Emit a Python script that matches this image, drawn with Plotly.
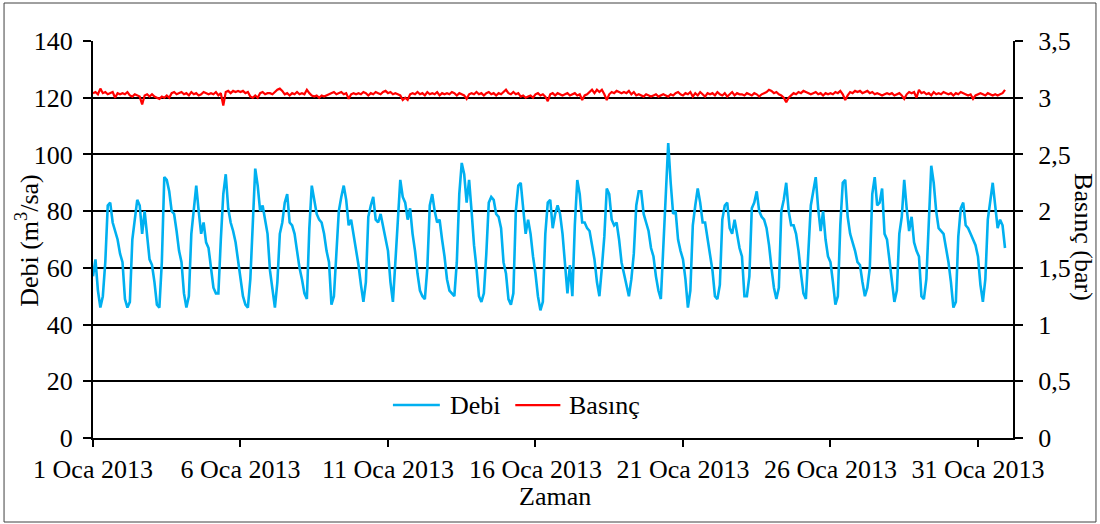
import pandas as pd
import plotly.graph_objects as go

# Flow (Debi, m3/sa) read every 2 hours, one row per day (1..31 Ocak 2013)
debi_by_day = [
    [57, 63, 52, 46, 50, 62, 82, 83, 76, 73, 70, 65],
    [62, 49, 46, 48, 70, 77, 84, 82, 72, 80, 70, 63],
    [61, 55, 47, 46, 62, 92, 91, 87, 80, 79, 73, 66],
    [62, 51, 46, 50, 72, 82, 89, 80, 72, 76, 69, 67],
    [60, 53, 51, 51, 70, 86, 93, 81, 76, 73, 69, 62],
    [56, 50, 47, 46, 56, 76, 95, 89, 80, 82, 77, 72],
    [59, 52, 46, 55, 72, 76, 83, 86, 76, 75, 72, 66],
    [60, 56, 51, 49, 74, 89, 84, 79, 77, 76, 72, 66],
    [62, 47, 50, 65, 80, 85, 89, 84, 75, 77, 72, 67],
    [61, 54, 48, 55, 78, 82, 85, 77, 76, 79, 75, 70],
    [66, 55, 48, 62, 78, 91, 85, 83, 77, 81, 72, 66],
    [58, 52, 50, 49, 60, 82, 86, 80, 76, 77, 70, 64],
    [56, 52, 51, 50, 62, 86, 97, 93, 83, 91, 80, 68],
    [60, 50, 48, 51, 65, 83, 85, 84, 79, 78, 74, 62],
    [58, 49, 47, 51, 80, 89, 90, 80, 72, 77, 72, 64],
    [58, 50, 45, 48, 72, 83, 84, 74, 79, 82, 79, 72],
    [60, 51, 61, 50, 75, 91, 86, 76, 76, 74, 73, 68],
    [63, 55, 50, 60, 71, 88, 86, 77, 75, 76, 70, 62],
    [58, 55, 50, 56, 65, 82, 87, 87, 79, 76, 73, 67],
    [64, 57, 52, 49, 68, 90, 104, 90, 79, 80, 70, 66],
    [63, 56, 46, 52, 75, 82, 88, 83, 76, 76, 70, 65],
    [59, 50, 49, 54, 77, 82, 83, 74, 72, 77, 72, 67],
    [64, 50, 50, 57, 81, 83, 87, 80, 78, 77, 74, 68],
    [60, 53, 49, 53, 80, 84, 90, 80, 75, 75, 72, 66],
    [58, 51, 49, 65, 82, 87, 92, 81, 73, 80, 70, 64],
    [62, 55, 47, 50, 75, 90, 91, 78, 72, 69, 66, 62],
    [61, 55, 50, 53, 60, 86, 92, 82, 83, 88, 72, 70],
    [62, 54, 48, 52, 72, 78, 91, 81, 73, 78, 69, 66],
    [64, 50, 49, 56, 78, 96, 90, 80, 74, 73, 72, 67],
    [62, 55, 46, 48, 71, 81, 83, 75, 74, 72, 70, 68],
    [64, 54, 48, 56, 77, 83, 90, 82, 74, 77, 75, 67],
]

# Pressure (Basinc, bar) read every 2 hours, one row per day
basinc_by_day = [
    [3.04, 3.05, 3.03, 3.08, 3.04, 3.05, 3.03, 3.04, 3.05, 3.00, 3.04, 3.03],
    [3.04, 3.03, 3.05, 3.02, 3.01, 3.03, 3.02, 3.01, 2.94, 3.02, 3.03, 3.01],
    [3.03, 3.01, 3.00, 2.99, 3.01, 3.00, 3.02, 3.00, 3.04, 3.05, 3.03, 3.04],
    [3.05, 3.03, 3.04, 3.02, 3.05, 3.03, 3.04, 3.02, 3.03, 3.05, 3.04, 3.03],
    [3.04, 3.03, 3.05, 3.02, 3.04, 2.93, 3.05, 3.06, 3.04, 3.06, 3.05, 3.06],
    [3.05, 3.06, 3.04, 3.05, 3.01, 3.00, 3.02, 3.00, 3.04, 3.05, 3.03, 3.04],
    [3.04, 3.03, 3.05, 3.07, 3.08, 3.06, 3.03, 3.04, 3.02, 3.04, 3.03, 3.05],
    [3.03, 3.04, 3.03, 3.07, 3.04, 3.02, 3.01, 3.02, 3.00, 3.02, 3.01, 3.02],
    [3.03, 3.04, 3.05, 3.03, 3.04, 3.05, 3.03, 3.04, 2.99, 3.03, 3.04, 3.03],
    [3.04, 3.03, 3.05, 3.04, 3.02, 3.04, 3.03, 3.05, 3.04, 3.03, 3.05, 3.06],
    [3.04, 3.05, 3.03, 3.04, 3.03, 3.02, 2.98, 3.00, 2.98, 3.03, 3.04, 3.03],
    [3.05, 3.03, 3.04, 3.02, 3.05, 3.03, 3.04, 3.03, 3.05, 3.02, 3.04, 3.03],
    [3.04, 3.03, 3.05, 3.04, 3.02, 3.04, 3.03, 3.02, 2.99, 3.03, 3.04, 3.03],
    [3.05, 3.03, 3.04, 3.02, 3.04, 3.05, 3.03, 3.04, 3.02, 3.04, 3.03, 3.05],
    [3.07, 3.04, 3.03, 3.05, 3.03, 3.04, 3.01, 3.02, 3.00, 3.01, 3.02, 3.00],
    [3.03, 3.04, 3.02, 3.03, 3.01, 2.97, 3.03, 3.04, 3.02, 3.04, 3.03, 3.02],
    [3.03, 3.04, 3.02, 3.03, 3.04, 3.02, 3.03, 2.98, 3.02, 3.03, 3.05, 3.07],
    [3.04, 3.07, 3.05, 3.07, 3.03, 2.98, 3.03, 3.05, 3.04, 3.06, 3.05, 3.04],
    [3.05, 3.04, 3.06, 3.03, 3.05, 3.02, 3.03, 3.02, 3.01, 3.03, 3.02, 3.01],
    [3.02, 3.03, 3.01, 3.02, 3.03, 3.02, 3.01, 3.03, 3.02, 3.04, 3.05, 3.03],
    [3.02, 3.04, 3.03, 3.05, 3.01, 3.04, 3.02, 3.05, 3.03, 3.01, 3.04, 3.03],
    [3.04, 3.02, 3.05, 3.03, 3.02, 3.04, 3.01, 3.03, 3.05, 3.02, 3.04, 3.03],
    [3.03, 3.02, 3.04, 3.03, 3.02, 3.04, 3.03, 3.01, 3.03, 3.04, 3.05, 3.07],
    [3.06, 3.04, 3.05, 3.03, 3.02, 3.00, 2.96, 3.00, 3.02, 3.04, 3.03, 3.05],
    [3.04, 3.06, 3.05, 3.04, 3.03, 3.04, 3.05, 3.03, 3.04, 3.02, 3.04, 3.03],
    [3.04, 3.03, 3.05, 3.04, 3.06, 3.03, 2.98, 3.02, 3.05, 3.04, 3.06, 3.05],
    [3.06, 3.04, 3.05, 3.06, 3.04, 3.05, 3.03, 3.04, 3.03, 3.02, 3.03, 3.04],
    [3.03, 3.04, 3.02, 3.03, 3.04, 3.02, 2.99, 3.03, 3.05, 3.04, 3.05, 3.00],
    [3.07, 3.04, 3.05, 3.03, 3.04, 3.02, 3.05, 3.03, 3.04, 3.03, 3.05, 3.04],
    [3.03, 3.04, 3.02, 3.04, 3.03, 3.05, 3.04, 3.03, 3.02, 3.03, 2.99, 3.02],
    [3.03, 3.04, 3.03, 3.02, 3.04, 3.03, 3.02, 3.03, 3.02, 3.03, 3.04, 3.07],
]

tick_dates = ["2013-01-01", "2013-01-06", "2013-01-11", "2013-01-16",
              "2013-01-21", "2013-01-26", "2013-01-31"]
tick_labels = ["1 Oca 2013", "6 Oca 2013", "11 Oca 2013", "16 Oca 2013",
               "21 Oca 2013", "26 Oca 2013", "31 Oca 2013"]

debi = [v for day in debi_by_day for v in day]
basinc = [v for day in basinc_by_day for v in day]
times = pd.date_range("2013-01-01 00:00", periods=len(debi), freq="2h")

FONT = "Liberation Serif, Times New Roman, serif"
FS = 26
BLUE = "#00B0F0"
RED = "#FF0000"

fig = go.Figure()
fig.add_trace(go.Scatter(x=times, y=debi, name="Debi", mode="lines",
                         line=dict(color=BLUE, width=2.6), showlegend=False))
fig.add_trace(go.Scatter(x=times, y=basinc, name="Basınç", mode="lines",
                         yaxis="y2", line=dict(color=RED, width=2.2), showlegend=False))

# legend drawn as layout items (line samples + labels)
LEG_Y = 0.083
legend_shapes = [
    dict(type="line", xref="paper", yref="paper", x0=0.326, x1=0.377, y0=LEG_Y, y1=LEG_Y,
         line=dict(color=BLUE, width=2.6)),
    dict(type="line", xref="paper", yref="paper", x0=0.459, x1=0.508, y0=LEG_Y, y1=LEG_Y,
         line=dict(color=RED, width=2.2)),
]
legend_texts = [
    dict(text="Debi", xref="paper", yref="paper", x=0.386, y=LEG_Y, showarrow=False,
         xanchor="left", yanchor="middle", font=dict(family=FONT, size=FS)),
    dict(text="Basınç", xref="paper", yref="paper", x=0.515, y=LEG_Y, showarrow=False,
         xanchor="left", yanchor="middle", font=dict(family=FONT, size=FS)),
]

fig.update_layout(
    width=1100, height=524,
    margin=dict(l=93, r=87, t=41, b=86),
    paper_bgcolor="white", plot_bgcolor="white",
    separators=", ",
    font=dict(family=FONT, size=FS, color="black"),
    showlegend=False,
    xaxis=dict(type="date", range=["2013-01-01 00:00", "2013-02-01 04:30"],
               tickvals=tick_dates, ticktext=tick_labels,
               showgrid=False, showline=True, linecolor="black", linewidth=2,
               ticks="outside", ticklen=7, tickwidth=2, tickcolor="black",
               tickfont=dict(family=FONT, size=FS), zeroline=False),
    yaxis=dict(range=[0, 140], dtick=20, showgrid=True, gridcolor="black", gridwidth=2,
               showline=True, linecolor="black", linewidth=2,
               ticks="outside", ticklen=8, tickwidth=2, tickcolor="black",
               ticklabelstandoff=5,
               tickfont=dict(family=FONT, size=FS), zeroline=False),
    yaxis2=dict(range=[0, 3.5], dtick=0.5, overlaying="y", side="right",
                showgrid=False, showline=True, linecolor="black", linewidth=2,
                ticks="outside", ticklen=8, tickwidth=2, tickcolor="black",
                ticklabelstandoff=10,
                tickfont=dict(family=FONT, size=FS), zeroline=False),
    shapes=[dict(type="rect", xref="paper", yref="paper",
                 x0=-0.0967, x1=1.0902, y0=-0.2116, y1=1.0957,
                 line=dict(color="#404040", width=1), fillcolor="rgba(0,0,0,0)")]
           + legend_shapes,
    annotations=[
        dict(text="Debi (m<sup>3</sup>/sa)", xref="paper", yref="paper",
             x=-0.0707, y=0.499, textangle=-90, showarrow=False,
             xanchor="center", yanchor="middle", font=dict(family=FONT, size=FS)),
        dict(text="Basınç (bar)", xref="paper", yref="paper",
             x=1.0772, y=0.506, textangle=90, showarrow=False,
             xanchor="center", yanchor="middle", font=dict(family=FONT, size=FS)),
        dict(text="Zaman", xref="paper", yref="paper",
             x=0.502, y=-0.1486, showarrow=False,
             xanchor="center", yanchor="middle", font=dict(family=FONT, size=FS)),
    ] + legend_texts,
)

fig.write_html("out.html")
